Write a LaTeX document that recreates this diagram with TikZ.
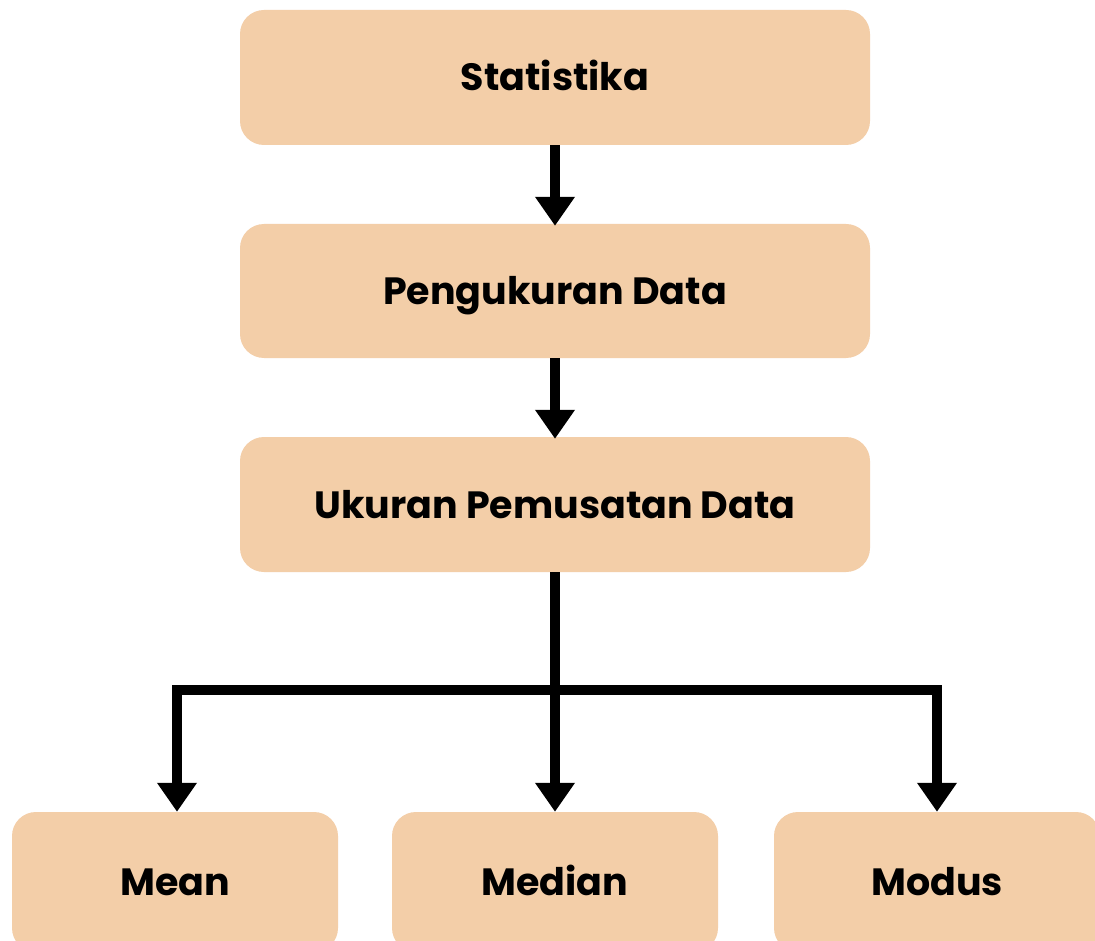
\documentclass[tikz,border=0pt]{standalone}
\usepackage{fontspec}
\setmainfont{Poppins}
\usetikzlibrary{arrows.meta}
\definecolor{peach}{RGB}{243,206,168}
\tikzset{
  box/.style={fill=peach, draw=none, rounded corners=24pt, inner sep=0pt,
    font=\fontsize{38}{44}\selectfont\bfseries, text=black,
    text height=27pt, text depth=0pt},
  conn/.style={line width=9.5pt, draw=black},
  arr/.style={conn, -{Triangle[width=38pt,length=29pt]}},
}
\begin{document}
\begin{tikzpicture}[x=1pt,y=-1pt]
\useasboundingbox (0,0) rectangle (1095,941);
\clip (0,0) rectangle (1095,941);
\fill[white] (0,0) rectangle (1095,941);
\node[box, minimum width=630pt, minimum height=135pt] (stat) at (555,77.5) {Statistika};
\node[box, minimum width=630pt, minimum height=134pt] (peng) at (555,291) {Pengukuran Data};
\node[box, minimum width=630pt, minimum height=135pt] (ukur) at (555,504.5) {Ukuran Pemusatan Data};
\node[box, minimum width=326pt, minimum height=140pt] (mean) at (175,882) {Mean};
\node[box, minimum width=326pt, minimum height=140pt] (median) at (555,882) {Median};
\node[box, minimum width=326pt, minimum height=140pt] (modus) at (937,882) {Modus};
\coordinate (hub) at (555,690);
\coordinate (left) at (177,690);
\coordinate (right) at (937,690);
\draw[arr] (stat.south) -- ([yshift=-2pt]peng.north);
\draw[arr] (peng.south) -- ([yshift=-2pt]ukur.north);
\draw[conn] (ukur.south) -- (hub);
\draw[arr] ([xshift=-5pt]right) -| ([yshift=0pt]modus.north-|right);
\draw[arr] ([xshift=5pt]left) -| ([yshift=0pt]mean.north-|left);
\draw[conn] (left) -- (right);
\draw[arr] (hub) -- (median.north);
\end{tikzpicture}
\end{document}
